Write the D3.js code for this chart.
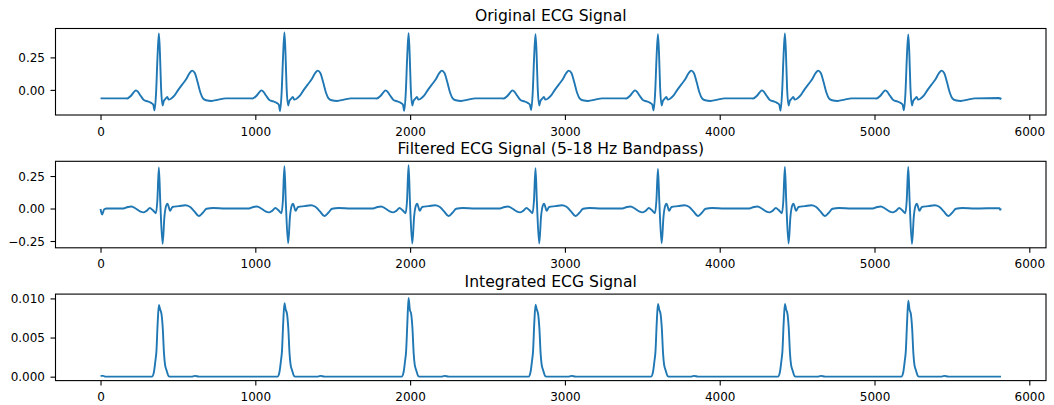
<!DOCTYPE html>
<meta charset="utf-8">
<head>
  <style>
    body { margin: 0; background: #fff; }
    text { font-family: "DejaVu Sans", sans-serif; fill: #000; }
  </style>
</head>
<body>
  <div class="chart"></div>
  <script src="https://cdn.jsdelivr.net/npm/d3@7/dist/d3.min.js"></script>
  <script>
    // R peak sample positions (same for all three signals)
    var rPeaks = [377, 1188, 1990, 2810, 3601, 4421, 5218];
    var lastSample = 5817;

    // per-beat peak values
    var origR = [0.435, 0.442, 0.436, 0.429, 0.429, 0.434, 0.427];
    var origQ = [-0.158, -0.163, -0.161, -0.155, -0.158, -0.16, -0.157];
    var filtR = [0.315, 0.325, 0.333, 0.31, 0.305, 0.32, 0.32];
    var filtS = [-0.272, -0.268, -0.27, -0.27, -0.268, -0.27, -0.272];
    var intR = [0.00915, 0.0094, 0.01005, 0.0092, 0.0093, 0.0093, 0.0097];

    // beat shapes: [offset from R peak, value]; "R" / "Q" / "S" take the per-beat value
    var origBeat = [
      [-230, -0.065], [-205, -0.066], [-180, -0.045], [-160, -0.015], [-148, -0.004],
      [-135, -0.015], [-118, -0.045], [-95, -0.08], [-72, -0.088], [-50, -0.1],
      [-36, -0.115], [-28, "Q"], [-18, -0.02], [-9, 0.25], [0, "R"], [7, 0.28],
      [14, 0.02], [24, -0.12], [32, -0.085], [42, -0.07], [54, -0.055], [64, -0.075],
      [76, -0.07], [100, -0.045], [125, 0.0], [150, 0.04], [175, 0.08], [198, 0.128],
      [215, 0.148], [232, 0.13], [250, 0.06], [268, -0.02], [285, -0.065], [305, -0.08],
      [340, -0.085], [385, -0.075], [430, -0.065]
    ];
    var filtBeat = [
      [-230, 0.0], [-200, 0.012], [-177, 0.016], [-150, 0.0], [-122, -0.022],
      [-100, -0.03], [-80, -0.018], [-58, 0.004], [-40, -0.012], [-19, -0.036],
      [-10, 0.06], [0, "R"], [9, 0.05], [24, "S"], [36, -0.06], [48, 0.025],
      [56, 0.038], [64, 0.01], [72, -0.018], [88, 0.012], [130, 0.018], [170, 0.025],
      [200, 0.014], [228, -0.02], [258, -0.058], [282, -0.035], [308, -0.002],
      [350, 0.004], [430, 0.0]
    ];
    var intBeat = [
      [-45, 0.0], [-32, 0.0006], [-22, 0.0021], [-16, 0.0032], [-8, 0.0068], [0, "R"],
      [8, 0.0086], [17, 0.008], [25, 0.0062], [33, 0.003], [40, 0.0015], [50, 0.0008],
      [62, 0.0001], [75, 0.0], [210, 0.0], [232, 0.0001], [260, 0.0], [430, 0.0]
    ];

    // start / end of each recording
    var origStart = [[0, -0.065]], origEnd = [[5805, -0.063], [5812, -0.07], [lastSample, -0.06]];
    var filtStart = [[0, -0.004], [10, -0.046], [24, -0.006], [40, 0.0]], filtEnd = [[5808, 0.003], [5812, -0.01], [lastSample, 0.0]];
    var intStart = [[0, 0.0001], [18, 0.0001], [32, 0.0]], intEnd = [[lastSample, 0.0]];

    var xTicks = [0, 1000, 2000, 3000, 4000, 5000, 6000];

    var titles = ["Original ECG Signal", "Filtered ECG Signal (5-18 Hz Bandpass)", "Integrated ECG Signal"];
    var yTicks = [[0.0, 0.25], [-0.25, 0.0, 0.25], [0.0, 0.005, 0.01]];
    var yTickLabels = [["0.00", "0.25"], ["\u22120.25", "0.00", "0.25"], ["0.000", "0.005", "0.010"]];

    // build the points of one signal from its beat shape
    function buildSeries(start, beat, end, peaks, extra) {
      var pts = start.slice();
      rPeaks.forEach(function (r, i) {
        beat.forEach(function (p) {
          var v = p[1];
          if (v === "R") v = peaks[i];
          if (v === "Q" || v === "S") v = extra[i];
          pts.push([r + p[0], v]);
        });
      });
      return pts.concat(end);
    }

    var series = [
      buildSeries(origStart, origBeat, origEnd, origR, origQ),
      buildSeries(filtStart, filtBeat, filtEnd, filtR, filtS),
      buildSeries(intStart, intBeat, intEnd, intR, intR)
    ];

    var width = 1054, height = 405;
    var left = 55.5, right = 1046;
    var tops = [28.5, 161.3, 294.1];
    var panelH = 86.5;

    var svg = d3.select(".chart").append("svg")
      .attr("width", width)
      .attr("height", height);

    // x range with matplotlib-like 5% margins
    var xMax = lastSample;
    var x = d3.scaleLinear()
      .domain([-0.05 * xMax, xMax * 1.05])
      .range([left, right]);

    series.forEach(function (data, k) {
      var top = tops[k];
      var ext = d3.extent(data, function (d) { return d[1]; });
      var pad = (ext[1] - ext[0]) * 0.05;
      var y = d3.scaleLinear()
        .domain([ext[0] - pad, ext[1] + pad])
        .range([top + panelH, top]);

      var g = svg.append("g");

      // data line
      g.append("path")
        .datum(data)
        .attr("fill", "none")
        .attr("stroke", "#1f77b4")
        .attr("stroke-width", 1.9)
        .attr("stroke-linejoin", "round")
        .attr("d", d3.line()
          .x(function (d) { return x(d[0]); })
          .y(function (d) { return y(d[1]); })
          .curve(d3.curveMonotoneX));

      // x axis
      var xa = g.append("g")
        .attr("transform", "translate(0," + (top + panelH) + ")")
        .call(d3.axisBottom(x).tickValues(xTicks).tickFormat(d3.format("d"))
          .tickSize(5).tickSizeOuter(0).tickPadding(7));
      // y axis
      var ya = g.append("g")
        .attr("transform", "translate(" + left + ",0)")
        .call(d3.axisLeft(y).tickValues(yTicks[k])
          .tickFormat(function (d, i) { return yTickLabels[k][i]; })
          .tickSize(5).tickSizeOuter(0).tickPadding(5.5));

      [xa, ya].forEach(function (a) {
        a.select(".domain").remove();
        a.selectAll("line").attr("stroke", "#000").attr("stroke-width", 1.1);
        a.selectAll("text")
          .style("font-family", "'DejaVu Sans', sans-serif")
          .style("font-size", "12px")
          .attr("fill", "#000");
      });
      ya.selectAll("text").attr("dy", "0.36em");

      // frame
      g.append("rect")
        .attr("x", left)
        .attr("y", top)
        .attr("width", right - left)
        .attr("height", panelH)
        .attr("fill", "none")
        .attr("stroke", "#000")
        .attr("stroke-width", 1.1);

      // title
      g.append("text")
        .attr("x", (left + right) / 2)
        .attr("y", top - 7.3)
        .attr("text-anchor", "middle")
        .style("font-size", "15.6px")
        .text(titles[k]);
    });
  </script>
</body>
